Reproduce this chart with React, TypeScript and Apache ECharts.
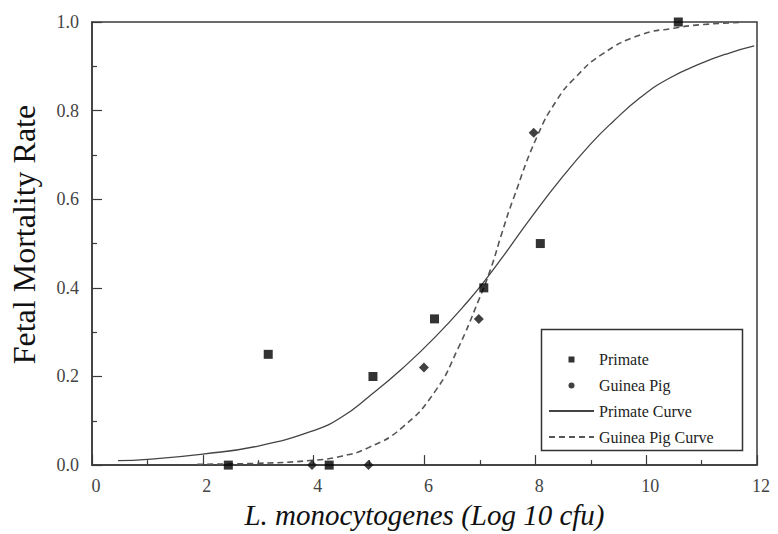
import React, { useEffect, useRef } from "react";
import * as echarts from "echarts";

const primatePoints: [number, number][] = [
  [2.46, 0.0], [3.18, 0.25], [4.28, 0.0], [5.07, 0.2],
  [6.18, 0.33], [7.07, 0.4], [8.09, 0.5], [10.58, 1.0],
];
const guineaPoints: [number, number][] = [
  [3.97, 0.0], [4.99, 0.0], [5.99, 0.22], [6.98, 0.33], [7.97, 0.75],
];
const primateCurve: [number, number][] = [
  [0.47, 0.01], [1, 0.013], [2, 0.025], [3, 0.043], [4, 0.078], [4.5, 0.108],
  [5, 0.155], [5.6, 0.218], [6.2, 0.29], [6.8, 0.372], [7.1, 0.418],
  [7.4, 0.468], [7.92, 0.558], [8.5, 0.652], [9, 0.725], [9.4, 0.775],
  [9.9, 0.83], [10.4, 0.872], [11, 0.907], [11.5, 0.93], [11.95, 0.946],
];
const guineaCurve: [number, number][] = [
  [1.9, 0.002], [3, 0.004], [4, 0.011], [4.5, 0.02], [5, 0.04], [5.6, 0.085],
  [6.2, 0.168], [6.6, 0.262], [6.97, 0.37], [7.2, 0.445], [7.4, 0.525],
  [7.6, 0.6], [8.04, 0.744], [8.4, 0.826], [8.7, 0.872], [9.2, 0.927],
  [9.9, 0.971], [10.5, 0.986], [11, 0.994], [11.75, 0.999],
];
const seriesNames = ["Primate", "Guinea Pig", "Primate Curve", "Guinea Pig Curve"];
const xTitle = "L. monocytogenes (Log 10 cfu)";
const yTitle = "Fetal Mortality Rate";

const FONT = "Liberation Serif, serif";

export default function App() {
  const ref = useRef<HTMLDivElement>(null);
  useEffect(() => {
    if (!ref.current) return;
    const chart = echarts.init(ref.current, undefined, { renderer: "svg" });
    const axisColor = "#3a3a3a";
    const hidden = { color: "rgba(0,0,0,0)", borderColor: "rgba(0,0,0,0)", borderWidth: 0 };
    chart.setOption({
      animation: false,
      backgroundColor: "#ffffff",
      textStyle: { fontFamily: FONT },
      grid: {
        left: 87, right: 21, top: 22, bottom: 64,
        show: true, borderColor: axisColor, borderWidth: 1.5, backgroundColor: "transparent",
      },
      xAxis: {
        type: "value", min: 0, max: 12, interval: 2,
        name: xTitle, nameLocation: "middle", nameGap: 32,
        nameTextStyle: { fontFamily: FONT, fontSize: 29, fontStyle: "italic", color: "#111" },
        axisLine: { show: true, lineStyle: { color: axisColor, width: 1.5 } },
        axisTick: { show: true, inside: true, length: 10, lineStyle: { color: axisColor, width: 1.2 } },
        minorTick: { show: true, splitNumber: 2, length: 5, lineStyle: { color: axisColor, width: 1.2 } },
        splitLine: { show: false },
        axisLabel: { fontFamily: FONT, fontSize: 18, color: "#444", margin: 12, padding: [0, 0, 0, 8] },
      },
      yAxis: {
        type: "value", min: 0, max: 1, interval: 0.2,
        name: yTitle, nameLocation: "middle", nameGap: 52, nameRotate: 90,
        nameTextStyle: { fontFamily: FONT, fontSize: 32, color: "#111", padding: [0, 0, 0, 18] },
        axisLine: { show: true, lineStyle: { color: axisColor, width: 1.5 } },
        axisTick: { show: true, inside: true, length: 10, lineStyle: { color: axisColor, width: 1.2 } },
        minorTick: { show: true, splitNumber: 2, length: 5, lineStyle: { color: axisColor, width: 1.2 } },
        splitLine: { show: false },
        axisLabel: {
          fontFamily: FONT, fontSize: 18, color: "#444", margin: 13,
          formatter: (v: number) => v.toFixed(1),
        },
      },
      legend: {
        orient: "vertical", left: 548, top: 351, padding: 0,
        itemWidth: 45, itemHeight: 14, itemGap: 10,
        textStyle: { fontFamily: FONT, fontSize: 16, color: "#222" },
        data: [
          { name: seriesNames[0], icon: "path://M0,0M45,14M19.5,4.5h6v6h-6z" },
          { name: seriesNames[1], icon: "path://M0,0M45,14M19.5,7.5a3,3 0 1,0 6,0a3,3 0 1,0 -6,0z" },
          { name: seriesNames[2], itemStyle: hidden },
          { name: seriesNames[3], itemStyle: hidden },
        ],
      },
      graphic: [
        {
          type: "rect", left: 539, top: 327, z: 100,
          shape: { width: 201, height: 121 },
          style: { fill: "none", stroke: "#333", lineWidth: 1.5 },
          silent: true,
        },
      ],
      series: [
        {
          name: seriesNames[2], type: "line", data: primateCurve, smooth: true,
          symbol: "none", lineStyle: { color: "#444", width: 1.3 }, itemStyle: { color: "#444" }, z: 2,
        },
        {
          name: seriesNames[3], type: "line", data: guineaCurve, smooth: true,
          symbol: "none", lineStyle: { color: "#555", width: 1.6, type: [6, 4] }, itemStyle: { color: "#555" }, z: 2,
        },
        {
          name: seriesNames[0], type: "scatter", data: primatePoints, symbol: "rect", symbolSize: 9,
          itemStyle: { color: "#000" }, z: 5,
        },
        {
          name: seriesNames[1], type: "scatter", data: guineaPoints, symbol: "diamond", symbolSize: 10,
          itemStyle: { color: "#111" }, z: 5,
        },
      ],
    });
    return () => chart.dispose();
  }, []);
  return (
    <div
      ref={ref}
      style={{ position: "fixed", left: 0, top: 0, width: 778, height: 534, background: "#fff" }}
    />
  );
}
